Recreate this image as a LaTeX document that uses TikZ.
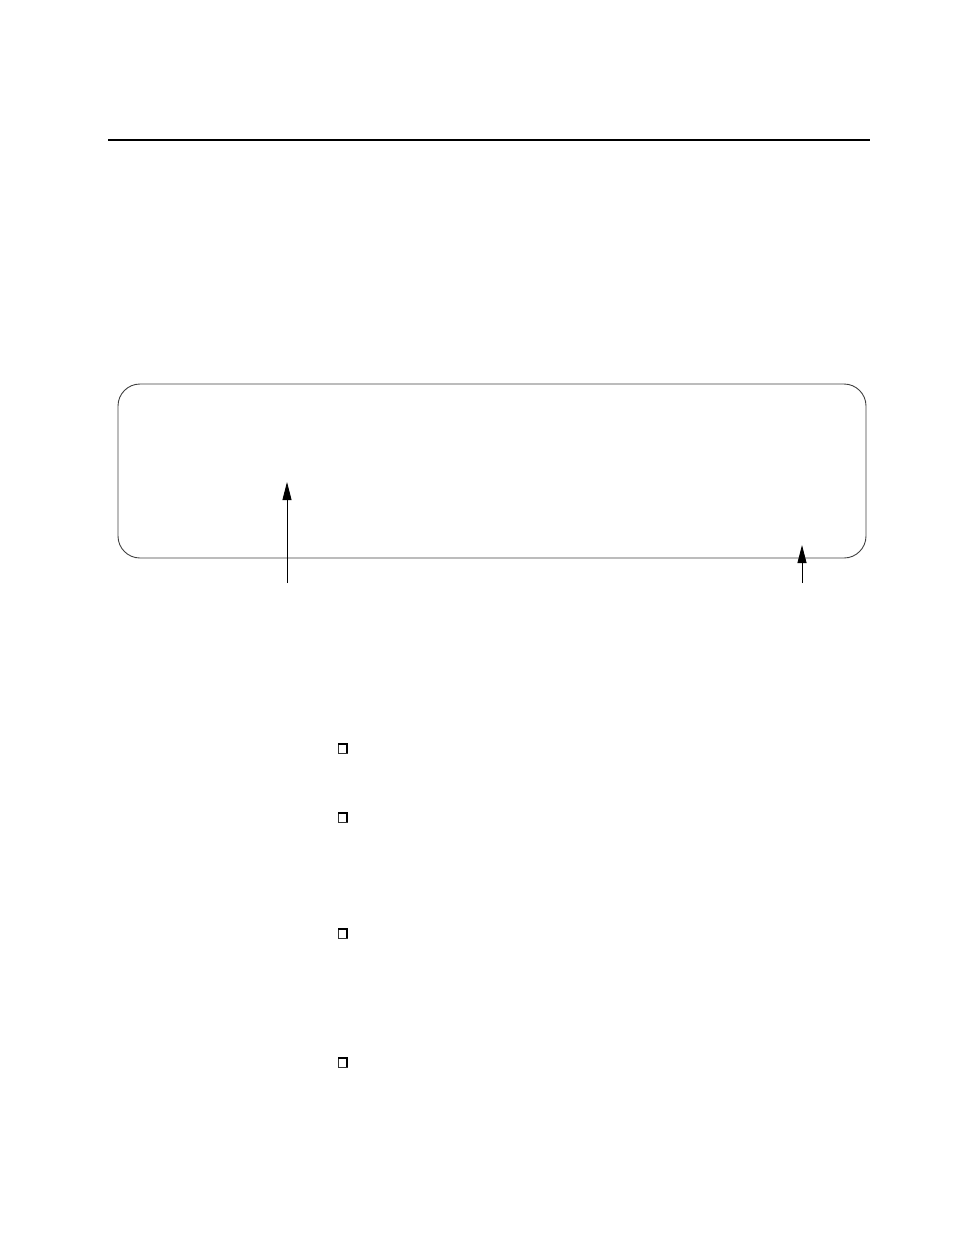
\documentclass[tikz,border=0pt]{standalone}
\usetikzlibrary{arrows.meta}
\begin{document}
\begin{tikzpicture}[x=1pt,y=-1pt,
  rule/.style={line width=1.4pt,black},
  panel/.style={draw=black!75,line width=0.9pt,rounded corners=22pt},
  pointer/.style={line width=0.9pt,-{Triangle[length=18pt,width=9pt]}},
  chk/.style={draw=black!80,line width=0.8pt},
  chkshade/.style={draw=black,line width=1.6pt}]
\useasboundingbox (0,0) rectangle (954,1235);
% top rule
\coordinate (ruleL) at (108,140);
\coordinate (ruleR) at (870,140);
\draw[rule] (ruleL) -- (ruleR);
% rounded panel
\draw[panel] (118,384) rectangle (866,558);
% arrows
\coordinate (a1s) at (287,583);
\coordinate (a1e) at (287,482);
\coordinate (a2s) at (802,583);
\coordinate (a2e) at (802,545);
\draw[pointer] (a1s) -- (a1e);
\draw[pointer] (a2s) -- (a2e);
% checkboxes
\foreach \yy in {744,813,929,1058}{
  \draw[chk] (338,\yy) rectangle (347,\yy+9);
  \draw[chkshade] (338,\yy) -- (347,\yy) -- (347,\yy+9);
}
\end{tikzpicture}
\end{document}
